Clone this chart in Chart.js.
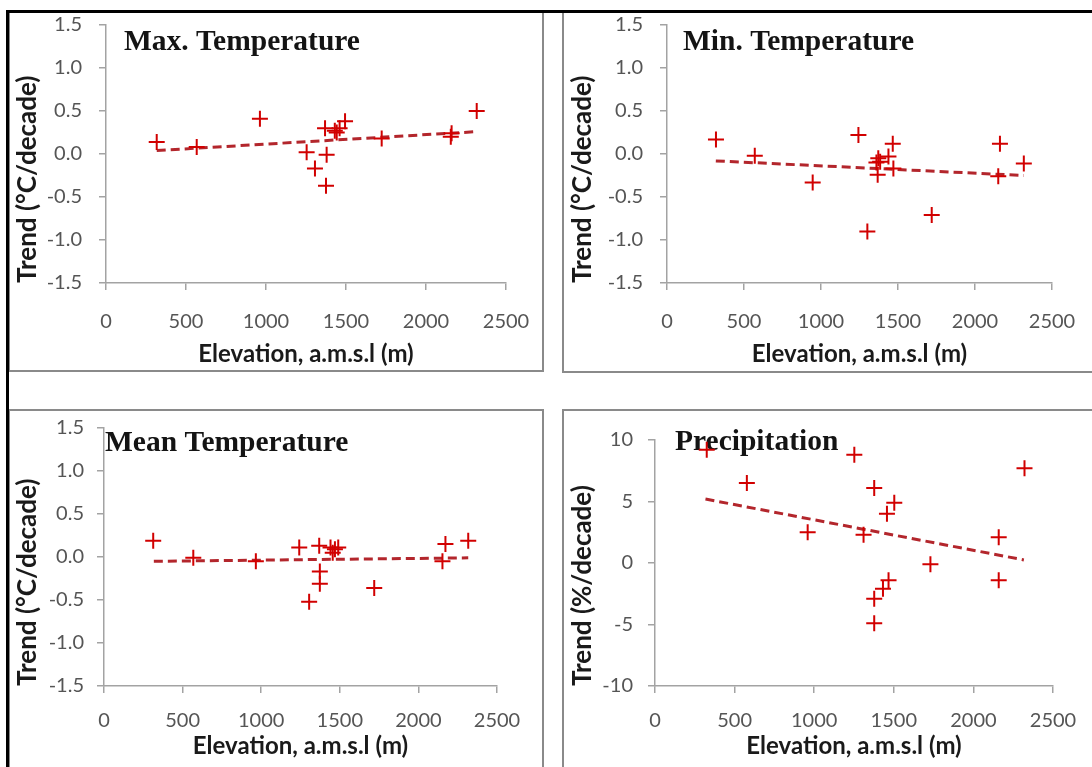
<!DOCTYPE html>
<html>
<head>
<meta charset="utf-8">
<script src="https://cdn.jsdelivr.net/npm/chart.js@4.4.0/dist/chart.umd.min.js"></script>
<style>
body { margin: 0; background: #fff; }
#page { position: relative; width: 1092px; height: 767px; overflow: hidden; background: #fff; }
.box { position: absolute; border: 2px solid #8a8a8a; box-sizing: border-box; }
.frame { position: absolute; background: #000; }
canvas { position: absolute; }
</style>
</head>
<body>
<div id="page">
  <div class="box" style="left:8px;top:10px;width:536px;height:362px;"></div>
  <div class="box" style="left:562px;top:10px;width:540px;height:363px;"></div>
  <div class="box" style="left:8px;top:409px;width:536px;height:380px;"></div>
  <div class="box" style="left:562px;top:409px;width:540px;height:380px;"></div>
  <div class="frame" style="left:6px;top:10px;width:1086px;height:3px;"></div>
  <div class="frame" style="left:6px;top:10px;width:3px;height:757px;"></div>

  <canvas id="maxChart" style="left:8px;top:12px;" width="535" height="358"></canvas>
  <canvas id="minChart" style="left:563px;top:12px;" width="529" height="358"></canvas>
  <canvas id="meanChart" style="left:8px;top:410px;" width="535" height="357"></canvas>
  <canvas id="precChart" style="left:563px;top:410px;" width="529" height="357"></canvas>
</div>

<script>
// trend vs station elevation
const maxElev = [317, 567, 962, 1254, 1306, 1369, 1379, 1375, 1430, 1442, 1460, 1494, 1723, 2155, 2160, 2317];
const maxTrend = [0.14, 0.08, 0.41, 0.02, -0.17, 0.30, -0.01, -0.37, 0.27, 0.25, 0.30, 0.38, 0.18, 0.20, 0.24, 0.50];

const minElev = [318, 570, 946, 1243, 1301, 1360, 1372, 1368, 1384, 1438, 1466, 1470, 1719, 2162, 2151, 2317];
const minTrend = [0.17, -0.02, -0.33, 0.22, -0.90, -0.10, -0.05, -0.24, -0.09, -0.03, 0.12, -0.17, -0.71, 0.12, -0.26, -0.11];

const meanElev = [313, 568, 966, 1242, 1305, 1369, 1373, 1373, 1441, 1455, 1469, 1490, 1719, 2153, 2172, 2317];
const meanTrend = [0.19, -0.01, -0.05, 0.11, -0.52, 0.13, -0.17, -0.31, 0.11, 0.05, 0.09, 0.11, -0.36, -0.05, 0.15, 0.19];

const precElev = [325, 577, 959, 1252, 1310, 1377, 1377, 1377, 1432, 1467, 1457, 1503, 1730, 2159, 2159, 2321];
const precTrend = [9.2, 6.5, 2.5, 8.8, 2.3, 6.1, -2.9, -4.9, -2.1, -1.4, 4.0, 4.9, -0.1, 2.1, -1.4, 7.7];

// linear fit end points
const fitElev = [317, 2317];
const maxFit = [0.04, 0.26];
const minFit = [-0.08, -0.25];
const meanFit = [-0.05, -0.01];
const precFit = [5.2, 0.25];

const elevTicks = [0, 500, 1000, 1500, 2000, 2500];
const tempTicks = [-1.5, -1.0, -0.5, 0.0, 0.5, 1.0, 1.5];
const precTicks = [-10, -5, 0, 5, 10];

const TICK_FONT = { family: 'Lato', size: 20 };
const XTITLE_FONT = { family: 'Lato', size: 24, weight: 'bold' };
const YTITLE_FONT = { family: 'Lato', size: 26, weight: 'bold' };

// panel name drawn inside the plot area
const panelLabel = {
    id: 'panelLabel',
    beforeDatasetsDraw(chart, args, opts) {
        const { ctx, chartArea } = chart;
        ctx.save();
        ctx.font = 'bold 29.5px "Liberation Serif"';
        ctx.fillStyle = '#141414';
        ctx.textBaseline = 'middle';
        ctx.fillText(opts.text, chartArea.left + opts.dx, chartArea.top + opts.dy);
        ctx.restore();
    }
};

function toPoints(xs, ys) {
    return xs.map((x, i) => ({ x, y: ys[i] }));
}

function makePanel(id, cfg) {
    const ctx = document.getElementById(id).getContext('2d');
    return new Chart(ctx, {
        type: 'scatter',
        data: {
            datasets: [
                {
                    data: toPoints(cfg.elev, cfg.trend),
                    pointStyle: 'cross',
                    pointRadius: 8,
                    pointBorderWidth: 2,
                    borderColor: '#d10000',
                    backgroundColor: '#d10000',
                    clip: false
                },
                {
                    data: toPoints(fitElev, cfg.fit),
                    showLine: true,
                    borderColor: '#b3262c',
                    borderWidth: 3,
                    borderDash: [9, 5],
                    pointRadius: 0,
                    fill: false
                }
            ]
        },
        options: {
            responsive: false,
            animation: false,
            events: [],
            layout: { autoPadding: false, padding: { top: cfg.padTop, right: cfg.padRight, left: 0, bottom: 0 } },
            plugins: {
                legend: { display: false },
                tooltip: { enabled: false },
                panelLabel: { text: cfg.label, dx: cfg.labelDx, dy: cfg.labelDy }
            },
            scales: {
                x: {
                    type: 'linear',
                    min: 0,
                    max: 2500,
                    afterBuildTicks: s => { s.ticks = elevTicks.map(v => ({ value: v })); },
                    afterFit: s => {
                        s.height = cfg.axisH;
                        s.paddingLeft = 0;
                        s.paddingRight = 0;
                    },
                    border: { display: true, color: '#a3a3a3', width: 1.5 },
                    grid: { drawOnChartArea: false, drawTicks: true, tickLength: 7, color: '#a3a3a3', lineWidth: 1.5 },
                    ticks: {
                        padding: cfg.xTickPad,
                        color: '#555',
                        font: TICK_FONT,
                        maxRotation: 0,
                        callback: v => String(v)
                    },
                    title: {
                        display: true,
                        text: 'Elevation, a.m.s.l (m)',
                        color: '#1a1a1a',
                        font: XTITLE_FONT,
                        padding: { top: 0, bottom: cfg.xTitlePad }
                    }
                },
                y: {
                    type: 'linear',
                    min: cfg.yMin,
                    max: cfg.yMax,
                    afterBuildTicks: s => { s.ticks = cfg.yTicks.map(v => ({ value: v })); },
                    afterFit: s => {
                        s.width = cfg.axisW;
                        s.paddingTop = 0;
                        s.paddingBottom = 0;
                    },
                    border: { display: true, color: '#a3a3a3', width: 1.5 },
                    grid: { drawOnChartArea: false, drawTicks: true, tickLength: 7, color: '#a3a3a3', lineWidth: 1.5 },
                    ticks: {
                        padding: cfg.yTickPad,
                        color: '#555',
                        font: TICK_FONT,
                        callback: v => v.toFixed(cfg.yDecimals)
                    },
                    title: {
                        display: true,
                        text: cfg.yTitle,
                        align: 'start',
                        color: '#1a1a1a',
                        font: YTITLE_FONT,
                        padding: { top: 4, bottom: 0 }
                    }
                }
            }
        },
        plugins: [panelLabel]
    });
}

document.addEventListener('DOMContentLoaded', () => {
    makePanel('maxChart', {
        elev: maxElev, trend: maxTrend, fit: maxFit,
        yMin: -1.5, yMax: 1.5, yTicks: tempTicks, yDecimals: 1,
        yTitle: 'Trend (°C/decade)', label: 'Max. Temperature',
        padTop: 13, padRight: 37, axisW: 98, axisH: 87,
        xTickPad: 20, xTitlePad: 1, yTickPad: 17,
        labelDx: 18, labelDy: 17
    });
    makePanel('minChart', {
        elev: minElev, trend: minTrend, fit: minFit,
        yMin: -1.5, yMax: 1.5, yTicks: tempTicks, yDecimals: 1,
        yTitle: 'Trend (°C/decade)', label: 'Min. Temperature',
        padTop: 13, padRight: 40, axisW: 104, axisH: 87,
        xTickPad: 20, xTitlePad: 1, yTickPad: 17,
        labelDx: 16, labelDy: 17
    });
    makePanel('meanChart', {
        elev: meanElev, trend: meanTrend, fit: meanFit,
        yMin: -1.5, yMax: 1.5, yTicks: tempTicks, yDecimals: 1,
        yTitle: 'Trend (°C/decade)', label: 'Mean Temperature',
        padTop: 18, padRight: 46, axisW: 96, axisH: 81,
        xTickPad: 16, xTitlePad: 6, yTickPad: 13,
        labelDx: 1, labelDy: 15
    });
    makePanel('precChart', {
        elev: precElev, trend: precTrend, fit: precFit,
        yMin: -10, yMax: 10, yTicks: precTicks, yDecimals: 0,
        yTitle: 'Trend (%/decade)', label: 'Precipitation',
        padTop: 30, padRight: 39, axisW: 92, axisH: 81,
        xTickPad: 16, xTitlePad: 6, yTickPad: 15,
        labelDx: 20, labelDy: 2
    });
});
</script>
</body>
</html>
